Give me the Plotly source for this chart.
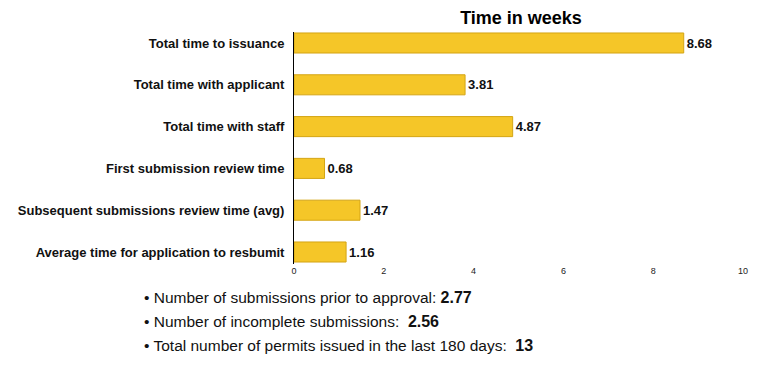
import plotly.graph_objects as go

categories = [
    "Total time to issuance",
    "Total time with applicant",
    "Total time with staff",
    "First submission review time",
    "Subsequent submissions review time (avg)",
    "Average time for application to resbumit",
]
weeks = [8.68, 3.81, 4.87, 0.68, 1.47, 1.16]
tick_vals = [0, 2, 4, 6, 8, 10]

bullet_labels = [
    "Number of submissions prior to approval: ",
    "Number of incomplete submissions:  ",
    "Total number of permits issued in the last 180 days:  ",
]
bullet_values = ["2.77", "2.56", "13"]

FONT = "Liberation Sans, Arial, sans-serif"

fig = go.Figure()
fig.add_trace(go.Bar(
    y=categories, x=weeks, orientation="h",
    marker=dict(color="#F5C628", line=dict(color="#D4A514", width=1)),
    width=0.48,
    text=[f"<b>{v:.2f}</b>" for v in weeks], textposition="outside",
    textfont=dict(family=FONT, size=13, color="#111111"),
    cliponaxis=False,
))

W, H = 771, 387
L, R, T, B = 294, 28, 32, 123
pw, ph = W - L - R, H - T - B

fig.update_layout(
    width=W, height=H,
    margin=dict(l=L, r=R, t=T, b=B, autoexpand=False),
    paper_bgcolor="white", plot_bgcolor="white",
    showlegend=False,
    font=dict(family=FONT, color="#111111"),
    title=dict(text="<b>Time in weeks</b>", x=521 / W, xanchor="center",
               y=1 - 18 / H, yanchor="middle",
               font=dict(family=FONT, size=18, color="#000000")),
    bargap=0.5,
)
fig.update_xaxes(range=[0, 10], tickvals=tick_vals, showgrid=False, zeroline=False,
                 showline=False, ticks="", tickfont=dict(size=9, color="#222222"),
                 ticklabelstandoff=0, automargin=False)
fig.update_yaxes(categoryorder="array", categoryarray=categories,
                 range=[5 + 12 / 41.8, -11 / 41.8], showgrid=False, zeroline=False,
                 showline=True, linecolor="#000000", linewidth=1, ticks="",
                 tickfont=dict(family=FONT, size=13, color="#111111"),
                 tickprefix="<b>", ticksuffix="</b>",
                 ticklabelstandoff=6, automargin=False)

ys = [297, 321, 345]
for lab, val, py in zip(bullet_labels, bullet_values, ys):
    fig.add_annotation(
        xref="paper", yref="paper",
        x=(142 - L) / pw, y=(H - B - py) / ph,
        xanchor="left", yanchor="middle", showarrow=False,
        text=f"• {lab}<b><span style='font-size:16px'>{val}</span></b>",
        font=dict(family=FONT, size=15.5, color="#111111"),
    )

fig.write_html("out.html", config={"displayModeBar": False},
               post_script="document.body.style.margin='0';")
